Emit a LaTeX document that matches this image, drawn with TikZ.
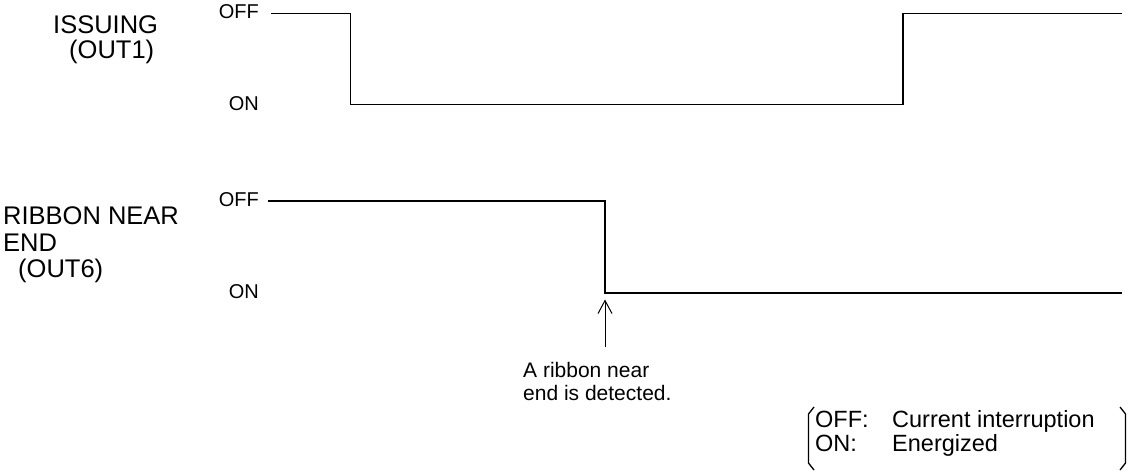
\documentclass[tikz,border=0pt]{standalone}
\usepackage{fontspec}
\setmainfont{Liberation Sans}
\usetikzlibrary{arrows.meta}
\begin{document}
\begin{tikzpicture}[x=1pt,y=-1pt,
  big/.style={inner sep=0pt,anchor=base west,font=\fontsize{25.5}{28}\selectfont},
  lvl/.style={inner sep=0pt,anchor=east,font=\fontsize{20}{22}\selectfont},
  note/.style={inner sep=0pt,anchor=base west,font=\fontsize{21}{23}\selectfont},
  leg/.style={inner sep=0pt,anchor=base west,font=\fontsize{23.5}{26}\selectfont},
  wave/.style={line width=1.9pt,line join=miter},
  brk/.style={line width=1.3pt}]
\useasboundingbox (0,0) rectangle (1127,472);
% signal names
\node[big] (iss) at (53,33) {ISSUING};
\node[big] (out1) at (69,58) {(OUT1)};
\node[big] (rib) at (3,224) {RIBBON NEAR};
\node[big] (end) at (3,251) {END};
\node[big] (out6) at (18,277) {(OUT6)};
% level labels
\node[lvl] (off1) at (259,12) {OFF};
\node[lvl] (on1) at (259,103.5) {ON};
\node[lvl] (off2) at (259,200) {OFF};
\node[lvl] (on2) at (259,291.5) {ON};
% waveform 1
\coordinate (a0) at (271,13.5);
\coordinate (a1) at (350.5,13.5);
\coordinate (a2) at (350.5,104.5);
\coordinate (a3) at (903,104.5);
\coordinate (a4) at (903,13.5);
\coordinate (a5) at (1122,13.5);
\draw[wave] (a0) -- (a1) -- (a2) -- (a3) -- (a4) -- (a5);
% waveform 2
\coordinate (b0) at (268,201);
\coordinate (b1) at (605,201);
\coordinate (b2) at (605,293);
\coordinate (b3) at (1122,293);
\draw[wave] (b0) -- (b1) -- (b2) -- (b3);
% annotation
\node[note] (n1) at (523,377) {A ribbon near};
\node[note] (n2) at (523,400) {end is detected.};
\coordinate (tail) at (605,347);
\coordinate (tip) at (605,299.5);
\draw[line width=1pt,-{Straight Barb[length=13pt,width=14pt]}] (tail) -- (tip);
% legend
\node[leg] (lo1) at (815,427) {OFF:};
\node[leg] (lo2) at (892,427) {Current interruption};
\node[leg] (ln1) at (815,451) {ON:};
\node[leg] (ln2) at (892,451) {Energized};
\draw[brk] (814,407) -- (808.5,414) -- (808.5,463) -- (814,470);
\draw[brk] (1120,407) -- (1125.5,414) -- (1125.5,463) -- (1120,470);
\end{tikzpicture}
\end{document}
